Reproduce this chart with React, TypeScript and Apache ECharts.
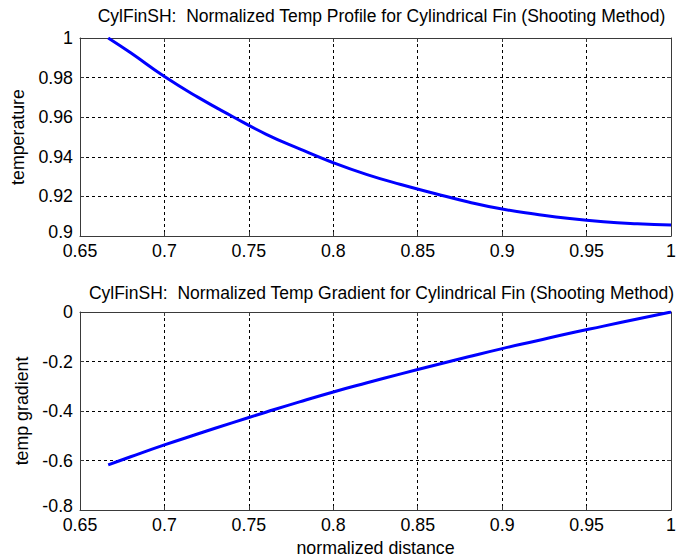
import React, { useEffect, useRef } from "react";
import * as echarts from "echarts";

const xDistance = [0.6667, 0.68, 0.7, 0.72, 0.74, 0.76, 0.78, 0.8, 0.82, 0.84, 0.86, 0.88, 0.9, 0.92, 0.94, 0.96, 0.98, 1.0];
const temperature = [1.0, 0.9925, 0.9805, 0.97, 0.9605, 0.9515, 0.944, 0.937, 0.931, 0.926, 0.9215, 0.9172, 0.9136, 0.911, 0.9088, 0.9072, 0.9062, 0.9056];
const tempGradient = [-0.618, -0.585, -0.537, -0.492, -0.448, -0.405, -0.363, -0.323, -0.286, -0.25, -0.215, -0.181, -0.148, -0.117, -0.086, -0.057, -0.028, 0.0];

const title1 = "CylFinSH:  Normalized Temp Profile for Cylindrical Fin (Shooting Method)";
const title2 = "CylFinSH:  Normalized Temp Gradient for Cylindrical Fin (Shooting Method)";
const xLabel = "normalized distance";
const yLabel1 = "temperature";
const yLabel2 = "temp gradient";

const FONT = "Liberation Sans, Arial, Helvetica, sans-serif";
const FS = 17.8;
const TFS = 17.5;
const AXIS_COLOR = "#3a3a3a";

export default function App() {
  const ref = useRef<HTMLDivElement>(null);
  useEffect(() => {
    if (!ref.current) return;
    const chart = echarts.init(ref.current, undefined, { renderer: "svg" });
    const labelStyle = { color: "#000", fontFamily: FONT, fontSize: FS };
    const split = { show: true, lineStyle: { color: "#000", width: 1, type: [3, 3] as any } };
    const fmt = (v: number) => String(parseFloat(v.toFixed(2)));
    const mainX = (gi: number) => ({
      type: "value",
      gridIndex: gi,
      min: 0.65,
      max: 1,
      interval: 0.05,
      position: "bottom",
      axisLine: { show: true, onZero: false, lineStyle: { color: AXIS_COLOR, width: 1 } },
      axisTick: { show: true, inside: true, length: 4, lineStyle: { color: AXIS_COLOR } },
      axisLabel: {
        ...labelStyle,
        margin: 7,
        lineHeight: 16,
        showMinLabel: true,
        showMaxLabel: true,
        formatter: fmt,
      },
      splitLine: split,
    });
    const boxX = (gi: number) => ({
      type: "value",
      gridIndex: gi,
      min: 0.65,
      max: 1,
      interval: 0.05,
      position: "top",
      axisLine: { show: true, onZero: false, lineStyle: { color: AXIS_COLOR, width: 1 } },
      axisTick: { show: true, inside: true, length: 4, lineStyle: { color: AXIS_COLOR } },
      axisLabel: { show: false },
      splitLine: { show: false },
    });
    const boxY = (gi: number, min: number, max: number, interval: number) => ({
      type: "value",
      gridIndex: gi,
      min,
      max,
      interval,
      position: "right",
      axisLine: { show: true, onZero: false, lineStyle: { color: AXIS_COLOR, width: 1 } },
      axisTick: { show: true, inside: true, length: 4, lineStyle: { color: AXIS_COLOR } },
      axisLabel: { show: false },
      splitLine: { show: false },
    });
    const mainY = (gi: number, min: number, max: number, interval: number, name: string, nameGap: number) => ({
      type: "value",
      gridIndex: gi,
      min,
      max,
      interval,
      position: "left",
      name,
      nameLocation: "middle",
      nameGap,
      nameTextStyle: labelStyle,
      axisLine: { show: true, onZero: false, lineStyle: { color: AXIS_COLOR, width: 1 } },
      axisTick: { show: true, inside: true, length: 4, lineStyle: { color: AXIS_COLOR } },
      axisLabel: {
        ...labelStyle,
        margin: 7,
        lineHeight: 16,
        showMinLabel: true,
        showMaxLabel: true,
        formatter: (v: number) => (Math.abs(v - min) < 1e-9 ? `{lo|${fmt(v)}}` : fmt(v)),
        rich: { lo: { ...labelStyle, lineHeight: 16, padding: [0, 0, 8, 0] } },
      },
      splitLine: split,
    });
    const x2 = mainX(1) as any;
    x2.name = xLabel;
    x2.nameLocation = "middle";
    x2.nameGap = 29;
    x2.nameTextStyle = labelStyle;

    chart.setOption({
      animation: false,
      backgroundColor: "#fff",
      title: [
        { text: title1, left: 376.5, top: 2, textAlign: "center", textStyle: { ...labelStyle, fontSize: TFS, fontWeight: "normal" } },
        { text: title2, left: 376.5, top: 279, textAlign: "center", textStyle: { ...labelStyle, fontSize: TFS, fontWeight: "normal" } },
      ],
      grid: [
        { left: 80, top: 38, width: 597, height: 198 },
        { left: 80, top: 312, width: 597, height: 198 },
      ],
      xAxis: [mainX(0), x2, boxX(0), boxX(1)],
      yAxis: [
        mainY(0, 0.9, 1, 0.02, yLabel1, 52),
        mainY(1, -0.8, 0, 0.2, yLabel2, 49),
        boxY(0, 0.9, 1, 0.02),
        boxY(1, -0.8, 0, 0.2),
      ],
      series: [
        {
          type: "line",
          xAxisIndex: 0,
          yAxisIndex: 0,
          data: xDistance.map((x, i) => [x, temperature[i]]),
          showSymbol: false,
          smooth: true,
          lineStyle: { color: "#0000ff", width: 3 },
        },
        {
          type: "line",
          xAxisIndex: 1,
          yAxisIndex: 1,
          data: xDistance.map((x, i) => [x, tempGradient[i]]),
          showSymbol: false,
          smooth: true,
          lineStyle: { color: "#0000ff", width: 3 },
        },
      ],
    });
    return () => chart.dispose();
  }, []);
  return (
    <div
      ref={ref}
      style={{ position: "fixed", left: 0, top: 0, width: 679, height: 559, background: "#fff" }}
    />
  );
}
